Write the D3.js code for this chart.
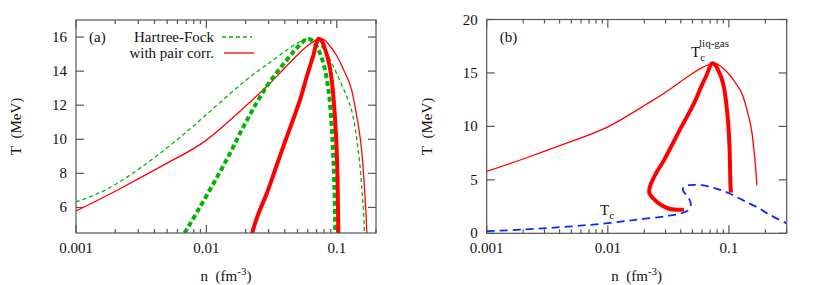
<html>
<head>
<style>
  body { margin:0; padding:0; background:#fff; }
  svg { display:block; }
  .frame { fill:none; stroke:#555; stroke-width:1.2; }
  .tick { stroke:#555; stroke-width:1.2; }
</style>
</head>
<body>
<svg width="817" height="285"></svg>
<script src="https://d3js.org/d3.v7.min.js"></script>
<script>
// ---- data (n in fm^-3, T in MeV) ----
// panel (a): Hartree-Fock coexistence (thin) and spinodal (thick)
var hfBinodal = [[0.001,6.33],[0.002,7.35],[0.005,9.5],[0.01,11.45],[0.02,13.45],[0.03,14.45],[0.04,15.15],[0.05,15.65],
  [0.06,15.9],[0.07,15.75],[0.08,15.25],[0.09,14.6],[0.1,13.85],[0.115,12.8],[0.13,11.7],[0.14,10.4],[0.149,8.8],
  [0.156,7.0],[0.16,5.85],[0.163,4.5]];
var hfSpinodal = [[0.0068,4.5],[0.0089,6.0],[0.0143,8.8],[0.0204,11.1],[0.029,13.1],[0.0413,14.65],[0.05,15.4],
  [0.06,15.9],[0.068,15.6],[0.078,14.6],[0.086,13.0],[0.091,11.0],[0.094,9.0],[0.096,7.0],[0.097,5.5],[0.0975,4.5]];
// with pairing correlations (same curves in both panels)
var pcBinodal = [[0.001,5.8],[0.002,6.95],[0.005,8.6],[0.01,9.95],[0.02,11.95],[0.03,13.2],[0.04,14.2],[0.05,14.95],
  [0.06,15.5],[0.0743,15.9],[0.085,15.65],[0.1,14.9],[0.115,13.95],[0.13,12.9],[0.145,11.0],[0.155,9.4],[0.163,7.2],
  [0.168,5.5],[0.17,4.5]];
var pcSpinodal = [[0.0425,2.2],[0.037,2.2],[0.032,2.3],[0.028,2.6],[0.0245,3.1],[0.022,3.8],[0.0225,4.5],[0.025,5.6],
  [0.029,6.8],[0.034,8.3],[0.039,9.6],[0.046,11.1],[0.0522,12.3],[0.059,13.7],[0.066,14.9],[0.0725,15.9],[0.077,15.75],
  [0.082,15.2],[0.087,14.5],[0.0915,13.5],[0.095,12.2],[0.0986,10.3],[0.101,8.3],[0.102,6.5],[0.103,4.5],[0.104,3.8]];
// pairing critical temperature
var pairTc = [[0.001,0.2],[0.002,0.35],[0.005,0.65],[0.01,0.95],[0.018,1.3],[0.03,1.6],[0.04,1.85],[0.046,2.15],
  [0.0485,2.7],[0.047,3.2],[0.0445,3.6],[0.0418,4.0],[0.0425,4.35],[0.047,4.5],[0.055,4.52],[0.066,4.42],[0.08,4.15],
  [0.1,3.75],[0.13,3.1],[0.17,2.45],[0.22,1.7],[0.3,0.93]];

var xTicks = [0.001, 0.01, 0.1];
var xTickLabels = ["0.001", "0.01", "0.1"];
var yTicksA = [6, 8, 10, 12, 14, 16];
var yTicksB = [0, 5, 10, 15, 20];
var legendNames = ["Hartree-Fock", "with pair corr."];

var svg = d3.select("svg");
var txtColor = "#111";

function label(sel) {
  return sel.append("text").attr("fill", txtColor)
    .attr("font-family", "Liberation Serif, DejaVu Serif, Times New Roman, serif")
    .attr("font-size", 15);
}

function panel(opt) {
  var x = d3.scaleLog().domain(opt.xdom).range([opt.left, opt.right]);
  var y = d3.scaleLinear().domain(opt.ydom).range([opt.bottom, opt.top]);
  var g = svg.append("g");

  var cid = "clip" + opt.name;
  g.append("clipPath").attr("id", cid).append("rect")
    .attr("x", opt.left).attr("y", opt.top)
    .attr("width", opt.right - opt.left).attr("height", opt.bottom - opt.top);

  // minor + major ticks on x (bottom and top)
  var minor = [];
  for (var e = -3; e <= 0; e++) for (var m = 1; m <= 9; m++) {
    var v = m * Math.pow(10, e);
    if (v >= opt.xdom[0] * 0.999 && v <= opt.xdom[1] * 1.001) minor.push(v);
  }
  minor.forEach(function(v) {
    var major = xTicks.indexOf(+v.toPrecision(3)) >= 0;
    var len = major ? 8 : 4;
    g.append("line").attr("class", "tick").attr("x1", x(v)).attr("x2", x(v))
      .attr("y1", opt.bottom).attr("y2", opt.bottom - len);
    g.append("line").attr("class", "tick").attr("x1", x(v)).attr("x2", x(v))
      .attr("y1", opt.top).attr("y2", opt.top + len);
  });
  xTicks.forEach(function(v, i) {
    label(g).attr("x", x(v)).attr("y", opt.bottom + 20)
      .attr("text-anchor", "middle").text(xTickLabels[i]);
  });
  opt.yticks.forEach(function(v) {
    g.append("line").attr("class", "tick").attr("x1", opt.left).attr("x2", opt.left + 8)
      .attr("y1", y(v)).attr("y2", y(v));
    g.append("line").attr("class", "tick").attr("x1", opt.right).attr("x2", opt.right - 8)
      .attr("y1", y(v)).attr("y2", y(v));
    label(g).attr("x", opt.left - 9).attr("y", y(v) + 5)
      .attr("text-anchor", "end").text(v);
  });

  // axis titles
  var xl = label(g).attr("x", (opt.left + opt.right) / 2)
    .attr("y", 281).attr("text-anchor", "middle");
  xl.append("tspan").text("n\u00a0\u00a0(fm");
  xl.append("tspan").attr("dy", -6).attr("font-size", 11).text("-3");
  xl.append("tspan").attr("dy", 6).text(")");
  label(g)
    .attr("transform", "translate(" + (opt.left - 55) + "," + ((opt.top + opt.bottom) / 2) + ") rotate(-90)")
    .attr("text-anchor", "middle").text("T\u00a0\u00a0(MeV)");

  var curves = g.append("g").attr("clip-path", "url(#" + cid + ")");
  opt.series.forEach(function(s) {
    var line = d3.line().x(function(d){ return x(d[0]); }).y(function(d){ return y(d[1]); })
      .curve(s.smooth ? d3.curveNatural : d3.curveCatmullRom.alpha(0.5));
    curves.append("path").datum(s.data).attr("d", line)
      .attr("fill", "none").attr("stroke", s.color).attr("stroke-width", s.width)
      .attr("stroke-dasharray", s.dash || null).attr("stroke-linejoin", "round");
  });

  g.append("rect").attr("class", "frame").attr("x", opt.left).attr("y", opt.top)
    .attr("width", opt.right - opt.left).attr("height", opt.bottom - opt.top);

  label(g).attr("x", opt.left + 13).attr("y", opt.top + 22).text(opt.tag);
  return { g: g, x: x, y: y };
}

var green = "#00b400", red = "#ff0000", blue = "#0a28ff";

var pa = panel({
  name: "a", tag: "(a)", left: 76, right: 376, top: 20, bottom: 233,
  xdom: [0.001, 0.2], ydom: [4.5, 17], yticks: yTicksA,
  series: [
    { data: hfBinodal, color: green, width: 1.3, dash: "4,3", smooth: true },
    { data: pcBinodal, color: red, width: 1.3, smooth: true },
    { data: hfSpinodal, color: green, width: 4, dash: "5,3" },
    { data: pcSpinodal, color: red, width: 4 }
  ]
});

// legend
label(pa.g).attr("x", 214).attr("y", 42).attr("text-anchor", "end").text(legendNames[0]);
label(pa.g).attr("x", 214).attr("y", 58).attr("text-anchor", "end").text(legendNames[1]);
pa.g.append("line").attr("x1", 222).attr("x2", 252).attr("y1", 37).attr("y2", 37)
  .attr("stroke", green).attr("stroke-width", 1.3).attr("stroke-dasharray", "4,3");
pa.g.append("line").attr("x1", 224).attr("x2", 254).attr("y1", 53).attr("y2", 53)
  .attr("stroke", red).attr("stroke-width", 1.3);

var pb = panel({
  name: "b", tag: "(b)", left: 486.7, right: 786.7, top: 19.5, bottom: 233.3,
  xdom: [0.001, 0.3], ydom: [0, 20], yticks: yTicksB,
  series: [
    { data: pcBinodal, color: red, width: 1.3, smooth: true },
    { data: pcSpinodal, color: red, width: 4 },
    { data: pairTc, color: blue, width: 1.8, dash: "8,5" }
  ]
});

// annotations
var t1 = label(pb.g).attr("x", 691).attr("y", 57);
t1.append("tspan").text("T");
t1.append("tspan").attr("dy", 4).attr("font-size", 11).text("c");
t1.append("tspan").attr("dx", -6).attr("dy", -14).attr("font-size", 11).text("liq-gas");
var t2 = label(pb.g).attr("x", 600).attr("y", 215);
t2.append("tspan").text("T");
t2.append("tspan").attr("dy", 4).attr("font-size", 11).text("c");
</script>
</body>
</html>
